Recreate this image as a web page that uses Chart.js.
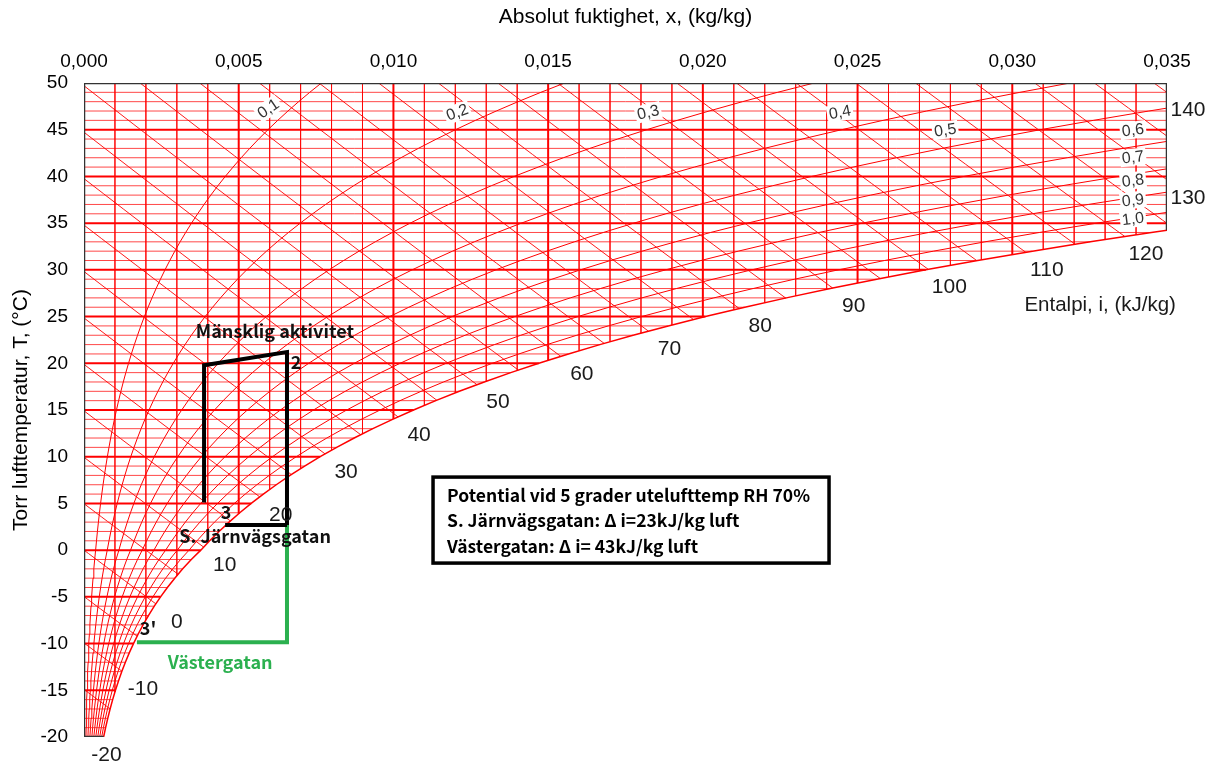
<!DOCTYPE html>
<html lang="sv">
<head>
<meta charset="UTF-8">
<title>Mollierdiagram - fuktig luft</title>
<script src="https://cdn.jsdelivr.net/npm/chart.js"></script>
<style>
  html, body { margin: 0; padding: 0; background: #ffffff; }
  #wrap { width: 1216px; height: 765px; }
</style>
</head>
<body>
<div id="wrap"><canvas id="mollier" width="1216" height="765"></canvas></div>
<script>
// Axis ticks
const xTicks = [0, 0.005, 0.010, 0.015, 0.020, 0.025, 0.030, 0.035];
const tTicks = [-20, -15, -10, -5, 0, 5, 10, 15, 20, 25, 30, 35, 40, 45, 50];

// Saturation pressure table (kPa), over ice below 0 °C
const satTemps = [-20, -19, -18, -17, -16, -15, -14, -13, -12, -11, -10, -9, -8, -7, -6, -5, -4, -3, -2, -1,
  0, 1, 2, 3, 4, 5, 6, 7, 8, 9, 10, 11, 12, 13, 14, 15, 16, 17, 18, 19,
  20, 21, 22, 23, 24, 25, 26, 27, 28, 29, 30, 31, 32, 33, 34, 35, 36, 37, 38, 39,
  40, 41, 42, 43, 44, 45, 46, 47, 48, 49, 50];
const satPressure = [0.1032, 0.1136, 0.1249, 0.1372, 0.1507, 0.1653, 0.1812, 0.1985, 0.2173, 0.2377,
  0.2599, 0.2839, 0.3099, 0.3381, 0.3686, 0.4015, 0.4371, 0.4756, 0.5170, 0.5618,
  0.6112, 0.6571, 0.7060, 0.7581, 0.8135, 0.8726, 0.9354, 1.0021, 1.0730, 1.1482,
  1.2282, 1.3129, 1.4028, 1.4981, 1.5989, 1.7057, 1.8185, 1.9380, 2.0644, 2.1978,
  2.3392, 2.4878, 2.6448, 2.8105, 2.9852, 3.1693, 3.3633, 3.5674, 3.7823, 4.0084,
  4.2462, 4.4961, 4.7586, 5.0345, 5.3242, 5.6280, 5.9468, 6.2812, 6.6315, 6.9988,
  7.3838, 7.7866, 8.2081, 8.6495, 9.1110, 9.5935, 10.098, 10.624, 11.173, 11.747, 12.344];

// Relative humidity curves and their labels
const rhLevels = [0.1, 0.2, 0.3, 0.4, 0.5, 0.6, 0.7, 0.8, 0.9, 1.0];
const rhLabelText = ['0,1', '0,2', '0,3', '0,4', '0,5', '0,6', '0,7', '0,8', '0,9', '1,0'];
const rhLabelX = [0.00595, 0.01206, 0.01823, 0.02443, 0.02783, 0.0339, 0.0339, 0.0339, 0.0339, 0.0339];
const rhLabelT = [47.3, 46.9, 46.9, 46.9, 45.0, 45.0, 42.1, 39.6, 37.5, 35.5];

// Enthalpy lines (kJ/kg) and labelled values
const enthalpyLevels = [-15, -10, -5, 0, 5, 10, 15, 20, 25, 30, 35, 40, 45, 50, 55, 60, 65, 70, 75,
  80, 85, 90, 95, 100, 105, 110, 115, 120, 125, 130, 135, 140];
const enthalpyLabels = [-20, -10, 0, 10, 20, 30, 40, 50, 60, 70, 80, 90, 100, 110, 120, 130, 140];

// Process paths drawn on the chart
const humanX = [0.00388, 0.00388, 0.00656, 0.00656];
const humanT = [5.1, 19.8, 21.2, 2.7];
const jarnvagX = [0.00456, 0.00656];
const jarnvagT = [2.7, 2.7];
const vasterX = [0.00656, 0.00656, 0.00171];
const vasterT = [2.7, -9.85, -9.85];

const P = 101.325;
const X_MAX = 0.035;
const RED = '#ff0000';
const RED_THIN = 'rgba(255,0,0,0.72)';
const GREEN = '#2bb04f';

const humidity = pv => 0.622 * pv / (P - pv);
const satX = satPressure.map(humidity);

function tSatAt(x) {
  for (let k = 1; k < satX.length; k++) {
    if (satX[k] >= x) {
      const f = (x - satX[k - 1]) / (satX[k] - satX[k - 1]);
      return satTemps[k - 1] + f * (satTemps[k] - satTemps[k - 1]);
    }
  }
  return 50;
}
const tOnEnthalpy = (i, x) => (i - 2501 * x) / (1.006 + 1.86 * x);

function seg(points, color, width, order) {
  return { data: points, showLine: true, borderColor: color, borderWidth: width,
    pointRadius: 0, pointHoverRadius: 0, fill: false, tension: 0, order: order || 0 };
}
const pts = (xs, ts) => xs.map((x, k) => ({ x: x, y: ts[k] }));

const datasets = [];

// horizontal temperature lines
for (let t = -19; t <= 49; t++) {
  const k = satTemps.indexOf(t);
  const thick = t % 5 === 0;
  datasets.push(seg([{ x: 0, y: t }, { x: Math.min(satX[k], X_MAX), y: t }], thick ? RED : RED_THIN, thick ? 2 : 1));
}
// vertical humidity lines
for (let n = 1; n <= 34; n++) {
  const x = n / 1000;
  const thick = n % 5 === 0;
  datasets.push(seg([{ x: x, y: 50 }, { x: x, y: Math.max(tSatAt(x), -20) }], thick ? RED : RED_THIN, thick ? 2 : 1));
}
// relative humidity curves
rhLevels.forEach(phi => {
  const curve = satTemps.map((t, k) => ({ x: humidity(phi * satPressure[k]), y: t }));
  datasets.push(seg(curve, RED, phi === 1 ? 1.5 : 1));
});
// enthalpy end point on saturation curve
function enthalpyEnd(i, x0) {
  let a = x0, b = 0.045;
  for (let n = 0; n < 60; n++) {
    const m = (a + b) / 2;
    if (tOnEnthalpy(i, m) > tSatAt(m)) a = m; else b = m;
  }
  return a;
}
enthalpyLevels.forEach(i => {
  let x0 = 0;
  if (i / 1.006 > 50) x0 = (i - 1.006 * 50) / (2501 + 1.86 * 50);
  const x1 = enthalpyEnd(i, x0);
  const line = [];
  for (let s = 0; s <= 16; s++) {
    const x = x0 + (x1 - x0) * s / 16;
    line.push({ x: x, y: tOnEnthalpy(i, x) });
  }
  datasets.push(seg(line, 'rgba(255,0,0,0.9)', 1));
});

// frame
const tRight = tSatAt(X_MAX);
datasets.push(seg([{ x: 0, y: -20 }, { x: 0, y: 50 }, { x: X_MAX, y: 50 }, { x: X_MAX, y: tRight }], '#333333', 2.5, -5));
datasets.push(seg([{ x: 0, y: -20 }, { x: satX[0], y: -20 }], '#333333', 2.5, -5));

// process lines
datasets.push(seg(pts(vasterX, vasterT), GREEN, 4, -10));
datasets.push(seg(pts(humanX, humanT), '#000000', 4, -11));
datasets.push(seg(pts(jarnvagX, jarnvagT), '#000000', 4, -11));

const SANS = '"Liberation Sans", Arial, sans-serif';
const CJK = '"Noto Sans CJK JP", "Noto Sans", sans-serif';

const notes = [
  { text: 'Mänsklig aktivitet', x: 0.00617, t: 23.45, color: '#111111' },
  { text: '2', x: 0.00685, t: 20.1, color: '#111111' },
  { text: '3', x: 0.00459, t: 4.1, color: '#111111' },
  { text: 'S. Järnvägsgatan', x: 0.00553, t: 1.45, color: '#111111' },
  { text: "3'", x: 0.00207, t: -8.35, color: '#111111' },
  { text: 'Västergatan', x: 0.0044, t: -12.0, color: GREEN }
];
const boxLines = ['Potential vid 5 grader utelufttemp RH 70%',
  'S. Järnvägsgatan: Δ i=23kJ/kg luft',
  'Västergatan: Δ i= 43kJ/kg luft'];

const labelPlugin = {
  id: 'mollierLabels',
  afterDatasetsDraw(chart) {
    const ctx = chart.ctx;
    const sx = chart.scales.x, sy = chart.scales.y;
    const px = x => sx.getPixelForValue(x);
    const py = t => sy.getPixelForValue(t);
    ctx.save();

    // relative humidity labels
    ctx.font = '16px ' + SANS;
    ctx.textAlign = 'center';
    ctx.textBaseline = 'middle';
    rhLevels.forEach((phi, k) => {
      const ds = satTemps.map((t, j) => ({ x: humidity(phi * satPressure[j]), y: t }));
      let ang = 0;
      for (let j = 1; j < ds.length; j++) {
        if (ds[j].x >= rhLabelX[k]) {
          const dx = px(ds[j].x) - px(ds[j - 1].x);
          const dy = py(ds[j].y) - py(ds[j - 1].y);
          ang = Math.atan2(dy, dx) * 0.8;
          break;
        }
      }
      const cx = px(rhLabelX[k]), cy = py(rhLabelT[k]);
      const w = ctx.measureText(rhLabelText[k]).width + 4;
      ctx.save();
      ctx.translate(cx, cy);
      ctx.rotate(ang);
      ctx.fillStyle = '#ffffff';
      ctx.fillRect(-w / 2, -8, w, 17);
      ctx.fillStyle = '#333333';
      ctx.fillText(rhLabelText[k], 0, 1);
      ctx.restore();
    });

    // enthalpy labels
    ctx.font = '21px ' + SANS;
    ctx.fillStyle = '#1a1a1a';
    enthalpyLabels.forEach(i => {
      let x = enthalpyEnd(i, 0), t = tOnEnthalpy(i, x);
      if (x > X_MAX) { x = X_MAX; t = tOnEnthalpy(i, x); }
      if (t < -20) { t = -20; x = (i - 1.006 * t) / (2501 + 1.86 * t); }
      ctx.fillText(String(i), px(x) + 21, py(t) + 18);
    });
    ctx.font = '20.5px ' + SANS;
    ctx.fillText('Entalpi, i, (kJ/kg)', px(0.03284), py(26.2));

    // process notes
    ctx.font = 'bold 18px ' + CJK;
    notes.forEach(n => {
      ctx.fillStyle = n.color;
      ctx.fillText(n.text, px(n.x), py(n.t));
    });

    // info box
    const bx = px(0.01128), by = py(7.82);
    ctx.fillStyle = '#ffffff';
    ctx.fillRect(bx, by, 396, 86);
    ctx.lineWidth = 3.5;
    ctx.strokeStyle = '#000000';
    ctx.strokeRect(bx, by, 396, 86);
    ctx.fillStyle = '#000000';
    ctx.textAlign = 'left';
    ctx.font = 'bold 17.5px ' + CJK;
    boxLines.forEach((s, k) => ctx.fillText(s, bx + 14, by + 18 + k * 25.5));
    ctx.restore();
  }
};

const tickFont = { family: SANS, size: 19 };
const titleFont = { family: SANS, size: 21 };

new Chart(document.getElementById('mollier'), {
  type: 'scatter',
  data: { datasets: datasets },
  options: {
    responsive: false,
    animation: false,
    events: [],
    layout: { padding: { left: 0, top: 0, right: 49, bottom: 28 } },
    plugins: { legend: { display: false }, tooltip: { enabled: false } },
    scales: {
      x: {
        type: 'linear', position: 'top', min: 0, max: X_MAX,
        afterFit: s => { s.height = 83; },
        afterBuildTicks: s => { s.ticks = xTicks.map(v => ({ value: v })); },
        ticks: { font: tickFont, color: '#000', padding: 10, maxRotation: 0, autoSkip: false,
          callback: v => v.toFixed(3).replace('.', ',') },
        grid: { display: false, drawTicks: false },
        border: { display: false },
        title: { display: true, text: 'Absolut fuktighet, x, (kg/kg)', color: '#000',
          font: titleFont, padding: { top: 5, bottom: 0 } }
      },
      y: {
        type: 'linear', min: -20, max: 50,
        afterFit: s => { s.width = 84; },
        afterBuildTicks: s => { s.ticks = tTicks.map(v => ({ value: v })); },
        ticks: { font: tickFont, color: '#000', padding: 16, autoSkip: false },
        grid: { display: false, drawTicks: false },
        border: { display: false },
        title: { display: true, text: 'Torr lufttemperatur, T, (°C)', color: '#000',
          font: titleFont, padding: { top: 9, bottom: 0 } }
      }
    }
  },
  plugins: [labelPlugin]
});
</script>
</body>
</html>
